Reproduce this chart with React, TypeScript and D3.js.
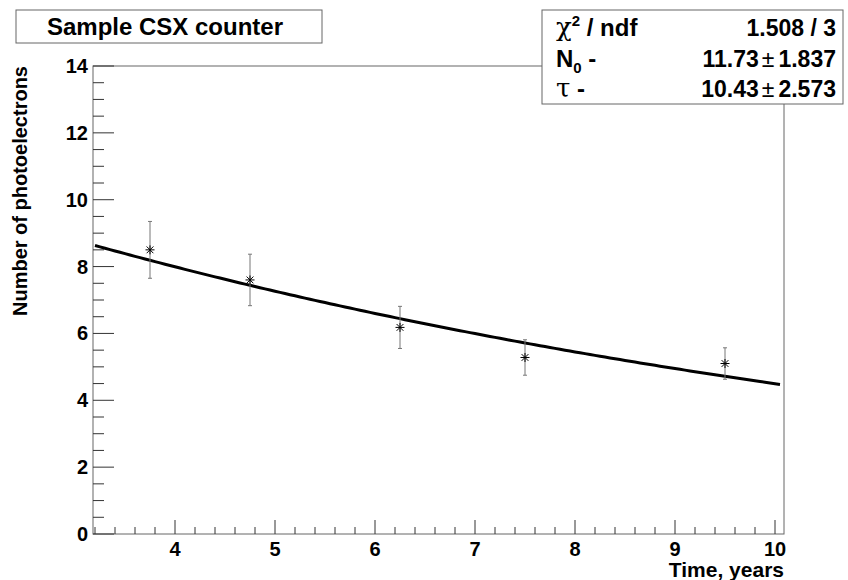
import React from "react";
import * as d3 from "d3";

// measured points (time in years, photoelectrons, error)
const times = [3.75, 4.75, 6.25, 7.5, 9.5];
const counts = [8.5, 7.6, 6.18, 5.28, 5.1];
const errors = [0.85, 0.77, 0.63, 0.53, 0.47];

// fit parameters N(t) = N0 * exp(-t / tau)
const fitN0 = 11.73;
const fitTau = 10.43;
const statLabels = ["chi2", "N0", "tau"];
const statValues = ["1.508 / 3", "11.73 \u00b1 1.837", "10.43 \u00b1 2.573"];

const xTicks = [4, 5, 6, 7, 8, 9, 10];
const yTicks = [0, 2, 4, 6, 8, 10, 12, 14];

const W = 848;
const H = 580;
const font = "Liberation Sans, Arial, sans-serif";

function App() {
  const x = d3.scaleLinear().domain([3.18, 10.09]).range([93, 784]);
  const y = d3.scaleLinear().domain([0, 14]).range([534, 66]);

  const xMinor = d3.range(3.2, 10.05, 0.2).filter((v) => Math.abs(v - Math.round(v)) > 0.01);
  const yMinor = d3.range(0.5, 14, 0.5).filter((v) => v % 2 !== 0);

  const fitLine = d3
    .line<number>()
    .x((t) => x(t))
    .y((t) => y(fitN0 * Math.exp(-t / fitTau)));
  const fitTimes = d3.range(3.2, 10.06, 0.05);

  const axisCol = "#666";
  const statBase = [36, 67, 97];

  return (
    <svg width={W} height={H} style={{ position: "absolute", left: 0, top: 0 }} fontFamily={font}>
      <rect width={W} height={H} fill="#fff" />

      {/* frame */}
      <rect x={93} y={66} width={691} height={468} fill="none" stroke={axisCol} strokeWidth={1} />

      {/* x ticks */}
      {xTicks.map((t) => (
        <g key={"xt" + t}>
          <line x1={x(t)} x2={x(t)} y1={534} y2={520} stroke="#333" />
          <text x={x(t)} y={556} textAnchor="middle" fontSize={20} fontWeight="bold">
            {t}
          </text>
        </g>
      ))}
      {xMinor.map((t, i) => (
        <line key={"xm" + i} x1={x(t)} x2={x(t)} y1={534} y2={527} stroke="#333" />
      ))}

      {/* y ticks */}
      {yTicks.map((v) => (
        <g key={"yt" + v}>
          <line x1={93} x2={114} y1={y(v)} y2={y(v)} stroke="#333" />
          <text x={88} y={y(v) + 7} textAnchor="end" fontSize={20} fontWeight="bold">
            {v}
          </text>
        </g>
      ))}
      {yMinor.map((v, i) => (
        <line key={"ym" + i} x1={93} x2={104} y1={y(v)} y2={y(v)} stroke="#333" />
      ))}

      {/* axis titles */}
      <text x={784} y={577} textAnchor="end" fontSize={21} fontWeight="bold">
        Time, years
      </text>
      <text
        transform={`translate(27,66) rotate(-90)`}
        textAnchor="end"
        fontSize={20}
        fontWeight="bold"
      >
        Number of photoelectrons
      </text>

      {/* fit */}
      <path d={fitLine(fitTimes) || ""} fill="none" stroke="#000" strokeWidth={3} />

      {/* data points with errors */}
      {times.map((t, i) => {
        const cx = x(t);
        const cy = y(counts[i]);
        const top = y(counts[i] + errors[i]);
        const bot = y(counts[i] - errors[i]);
        const r = 4.5;
        return (
          <g key={"p" + i}>
            <line x1={cx} x2={cx} y1={top} y2={bot} stroke="#777" strokeWidth={1} />
            <line x1={cx - 2} x2={cx + 2} y1={top} y2={top} stroke="#777" />
            <line x1={cx - 2} x2={cx + 2} y1={bot} y2={bot} stroke="#777" />
            <g stroke="#000" strokeWidth={1}>
              <line x1={cx - r} x2={cx + r} y1={cy} y2={cy} />
              <line x1={cx} x2={cx} y1={cy - r} y2={cy + r} />
              <line x1={cx - r * 0.75} x2={cx + r * 0.75} y1={cy - r * 0.75} y2={cy + r * 0.75} />
              <line x1={cx - r * 0.75} x2={cx + r * 0.75} y1={cy + r * 0.75} y2={cy - r * 0.75} />
            </g>
          </g>
        );
      })}

      {/* title box */}
      <rect x={16} y={10} width={306} height={33} fill="#fff" stroke={axisCol} />
      <text x={165} y={35} textAnchor="middle" fontSize={24} fontWeight="bold">
        Sample CSX counter
      </text>

      {/* stats box */}
      <rect x={542} y={10} width={301} height={94} fill="#fff" stroke={axisCol} />
      {statLabels.map((lab, i) => {
        const by = statBase[i];
        let label: React.ReactNode;
        if (lab === "chi2") {
          label = (
            <text x={556} y={by} fontSize={24} fontWeight="bold">
              <tspan fontWeight="normal" fontFamily="DejaVu Serif, serif" fontSize={26}>{"\u03c7"}</tspan>
              <tspan dy={-10} fontSize={15}>2</tspan>
              <tspan dy={10}>{" / ndf"}</tspan>
            </text>
          );
        } else if (lab === "N0") {
          label = (
            <text x={556} y={by} fontSize={24} fontWeight="bold">
              N<tspan dy={6} fontSize={15}>0</tspan>
              <tspan dy={-6}>{" -"}</tspan>
            </text>
          );
        } else {
          label = (
            <text x={556} y={by} fontSize={24} fontWeight="bold">
              <tspan fontWeight="normal" fontFamily="DejaVu Serif, serif" fontSize={26}>{"\u03c4"}</tspan>
              <tspan>{" -"}</tspan>
            </text>
          );
        }
        const parts = statValues[i].split(" \u00b1 ");
        return (
          <g key={"s" + i}>
            {label}
            <text x={836} y={by} textAnchor="end" fontSize={23} fontWeight="bold">
              {parts.length > 1 ? (
                <>
                  {parts[0]}
                  <tspan fontWeight="normal" dx={3}>{"\u00b1"}</tspan>
                  <tspan dx={4}>{parts[1]}</tspan>
                </>
              ) : (
                parts[0]
              )}
            </text>
          </g>
        );
      })}
    </svg>
  );
}

export default App;
